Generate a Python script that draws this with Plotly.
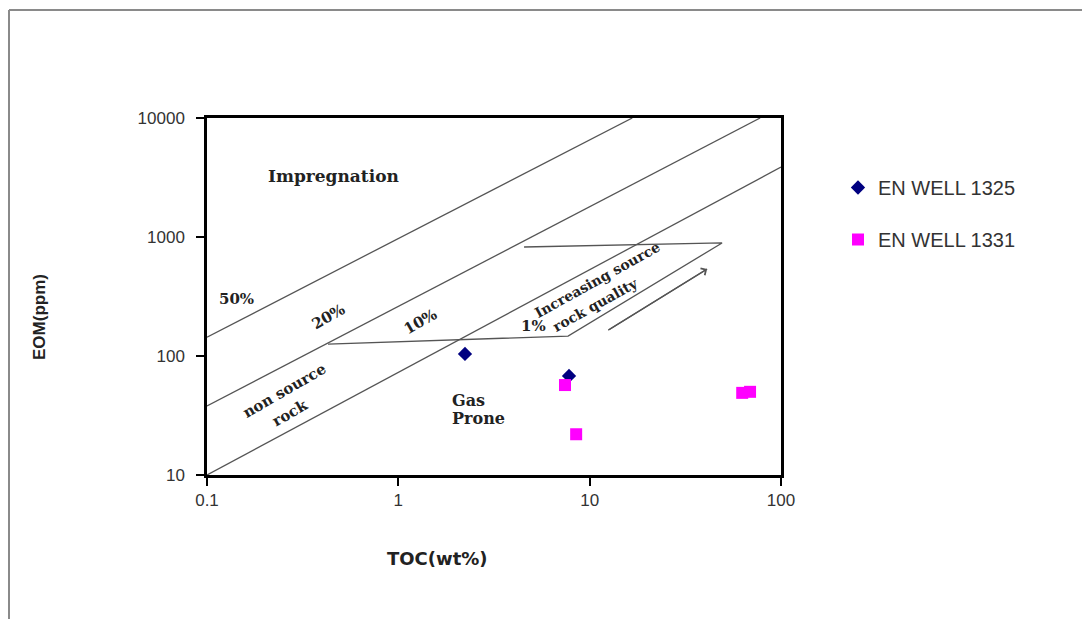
import plotly.graph_objects as go
import math

# ---- data ----
well1325_toc = [2.23, 7.8]
well1325_eom = [104, 68]
well1331_toc = [7.43, 8.5, 62.7, 68.9]
well1331_eom = [57, 22, 49, 50]

# classification lines (TOC, EOM endpoints)
line50_toc = [0.1, 16.7]
line50_eom = [144, 10000]
line20_toc = [0.1, 77.8]
line20_eom = [38, 10000]
line1_toc = [0.1, 100]
line1_eom = [10, 3870]

# "increasing source rock quality" box
box_toc = [0.429, 7.71, 49.2, 4.54]
box_eom = [126, 147, 891, 824]

# arrow
arrow_toc = [12.5, 41.1]
arrow_eom = [165, 538]

x_ticks = [0.1, 1, 10, 100]
x_ticktext = ["0.1", "1", "10", "100"]
y_ticks = [10, 100, 1000, 10000]
y_ticktext = ["10", "100", "1000", "10000"]

L, R, T, B = 207, 1082 - 781, 118, 619 - 475
W, H = 1082, 619
PW, PH = W - L - R, H - T - B

fig = go.Figure()

line_style = dict(color="#555555", width=1.3)
for xs, ys in [(line50_toc, line50_eom), (line20_toc, line20_eom), (line1_toc, line1_eom),
               (box_toc, box_eom), (arrow_toc, arrow_eom)]:
    fig.add_trace(go.Scatter(x=xs, y=ys, mode="lines", line=line_style,
                             showlegend=False, hoverinfo="skip"))

fig.add_trace(go.Scatter(x=well1325_toc, y=well1325_eom, mode="markers",
                         name="EN WELL 1325", legendgroup="a",
                         marker=dict(symbol="diamond", size=11, color="#000080")))
fig.add_trace(go.Scatter(x=well1331_toc, y=well1331_eom, mode="markers",
                         name="EN WELL 1331", legendgroup="b",
                         marker=dict(symbol="square", size=12, color="#FF00FF")))

# arrow head
fig.add_annotation(x=math.log10(arrow_toc[1]), y=math.log10(arrow_eom[1]),
                   ax=math.log10(arrow_toc[0]), ay=math.log10(arrow_eom[0]),
                   xref="x", yref="y", axref="x", ayref="y",
                   text="", showarrow=True, arrowhead=4, arrowsize=1.2,
                   arrowwidth=1.3, arrowcolor="#555555")

serif = "DejaVu Serif"
fx = lambda px: (px - L) / PW
fy = lambda py: (475 - py) / PH

def label(text, px, py, size=16, angle=0, xanchor="center"):
    fig.add_annotation(x=fx(px), y=fy(py), xref="paper", yref="paper", text=text,
                       showarrow=False, textangle=angle, xanchor=xanchor, yanchor="middle",
                       font=dict(family=serif, size=size, color="#222222"))

label("<b>Impregnation</b>", 333, 176, size=17)
label("<b>50%</b>", 236, 299, size=15)
label("<b>20%</b>", 328, 317, size=15, angle=-30)
label("<b>10%</b>", 420, 322, size=15, angle=-30)
label("<b>non source</b>", 284, 391, size=15, angle=-30)
label("<b>rock</b>", 290, 413, size=15, angle=-30)
label("<b>Increasing source</b>", 597, 280, size=14, angle=-29)
label("<b>rock quality</b>", 595, 305, size=14, angle=-29)
label("<b>1%</b>", 533, 326, size=15)
label("<b>Gas</b>", 450, 400, size=16, xanchor="left")
label("<b>Prone</b>", 450, 418, size=16, xanchor="left")

# axis titles
fig.add_annotation(x=fx(437), y=fy(571), xref="paper", yref="paper", text="<b>TOC(wt%)</b>",
                   showarrow=False, font=dict(family="DejaVu Sans", size=18, color="#222222"))
fig.add_annotation(x=fx(39), y=fy(317), xref="paper", yref="paper", text="<b>EOM(ppm)</b>",
                   showarrow=False, textangle=-90, xanchor="center", yanchor="middle",
                   font=dict(family="Liberation Sans", size=17, color="#222222"))

axis_common = dict(type="log", showline=True, mirror=True, linecolor="black", linewidth=2.5,
                   ticks="outside", ticklen=8, tickcolor="black", tickwidth=1.5,
                   showgrid=False, zeroline=False,
                   tickfont=dict(family="Liberation Sans", size=17, color="#333333"))

fig.update_xaxes(range=[-1, 2], tickmode="array", tickvals=x_ticks, ticktext=x_ticktext,
                 **axis_common)
fig.update_yaxes(range=[1, 4], tickmode="array", tickvals=y_ticks, ticktext=y_ticktext,
                 ticklabelstandoff=8, **axis_common)

# outer frame (partially visible, top and left)
fig.add_shape(type="line", xref="paper", yref="paper", x0=fx(9), y0=fy(10), x1=fx(1090), y1=fy(10),
              line=dict(color="#8a8a8a", width=2))
fig.add_shape(type="line", xref="paper", yref="paper", x0=fx(9), y0=fy(10), x1=fx(9), y1=fy(630),
              line=dict(color="#8a8a8a", width=2))

fig.update_layout(
    width=W, height=H,
    margin=dict(l=L, r=R, t=T, b=B),
    paper_bgcolor="white", plot_bgcolor="white",
    legend=dict(x=fx(838), y=fy(168), xanchor="left", yanchor="top",
                font=dict(family="Liberation Sans", size=20, color="#333333"),
                tracegroupgap=23, itemwidth=30, bgcolor="rgba(0,0,0,0)"),
)

fig.write_html("out.html")
